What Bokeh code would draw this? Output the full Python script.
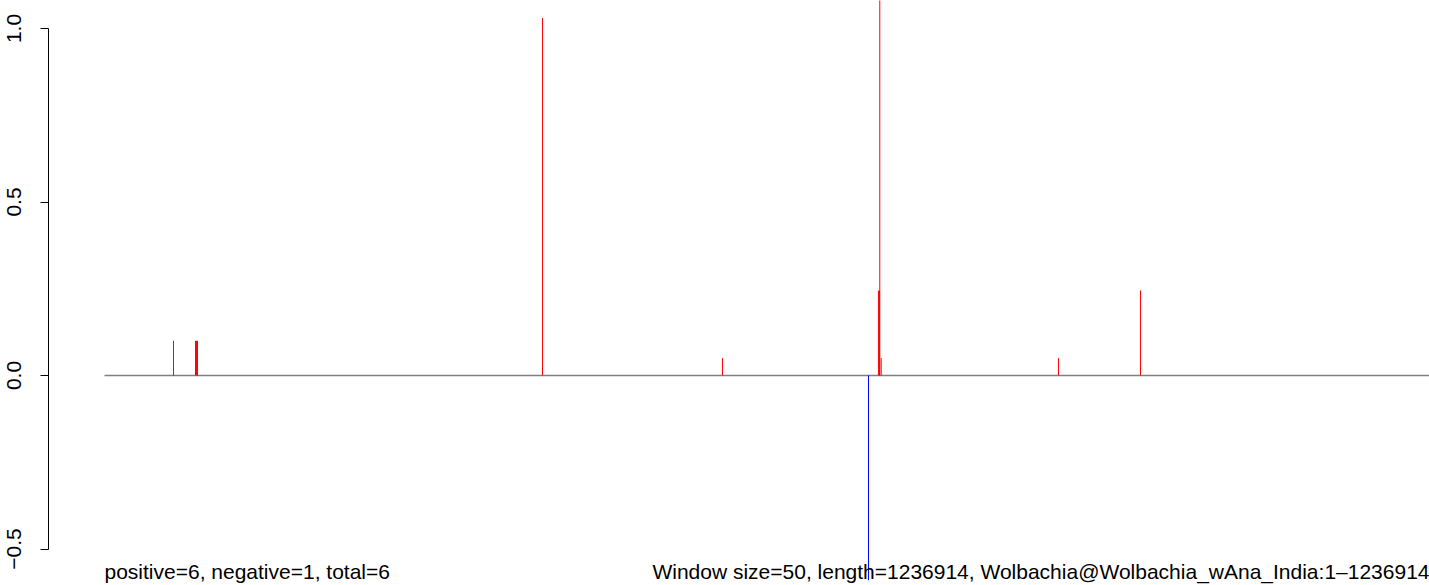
import math
from bokeh.plotting import figure
from bokeh.models import Range1d, FixedTicker, Label
from bokeh.embed import file_html
from bokeh.resources import INLINE

# ---- data ----
genome_length = 1236914
window_size = 50
genome_name = "Wolbachia@Wolbachia_wAna_India"
n_positive = 6
n_negative = 1
n_total = 6

positions = [64400, 84950, 85900, 86800, 408900, 576900, 713200,
             722500, 723450, 723750, 725050, 890550, 967100]
values = [0.10, 0.10, 0.10, 0.10, 1.03, 0.05, -0.59,
          0.245, 0.245, 1.25, 0.05, 0.05, 0.245]

y_ticks = [-0.5, 0.0, 0.5, 1.0]
y_tick_labels = ["\u22120.5", "0.0", "0.5", "1.0"]

# ---- figure ----
W, H = 1429, 585
left_border = 48
px_per_bp = 1325 / genome_length
x_start = -56 / px_per_bp
y_scale = 347.0
y_zero_px = 375.0

p = figure(width=W, height=H, output_backend="svg", toolbar_location=None,
           x_range=Range1d(x_start, genome_length),
           y_range=Range1d(-(H - y_zero_px) / y_scale, y_zero_px / y_scale),
           x_axis_location=None, min_border_left=left_border,
           min_border_right=0, min_border_top=0, min_border_bottom=0)
p.outline_line_color = None
p.xgrid.visible = False
p.ygrid.visible = False
p.background_fill_color = "white"
p.border_fill_color = "white"

ax = p.yaxis[0]
ax.ticker = FixedTicker(ticks=y_ticks)
ax.major_label_overrides = {t: l for t, l in zip(y_ticks, y_tick_labels)}
ax.bounds = (min(y_ticks), max(y_ticks))
ax.axis_line_color = "black"
ax.axis_line_width = 1
ax.major_tick_line_color = "black"
ax.major_tick_out = 8
ax.major_tick_in = 0
ax.minor_tick_line_color = None
ax.major_label_orientation = "vertical"
ax.major_label_standoff = 20
ax.major_label_text_font = "Liberation Sans"
ax.major_label_text_font_size = "21px"
ax.major_label_text_color = "black"

# baseline
p.line(x=[0, genome_length], y=[0, 0], line_color="#7f7f7f", line_width=1.5)

# bars
colors = ["#ff0000" if v > 0 else "#0000ff" for v in values]
p.segment(x0=positions, y0=[0] * len(values), x1=positions, y1=values,
          line_color=colors, line_width=1)

left_text = f"positive={n_positive}, negative={n_negative}, total={n_total}"
right_text = (f"Window size={window_size}, length={genome_length}, "
              f"{genome_name}:1\u2013{genome_length}")
for txt, xx, align in [(left_text, 0, "left"), (right_text, genome_length, "right")]:
    p.add_layout(Label(x=xx, y=-0.565, text=txt, text_align=align,
                       text_baseline="alphabetic", text_font="Liberation Sans",
                       text_font_size="21px", text_color="black"))

open("out.html", "w").write(file_html(p, INLINE))
